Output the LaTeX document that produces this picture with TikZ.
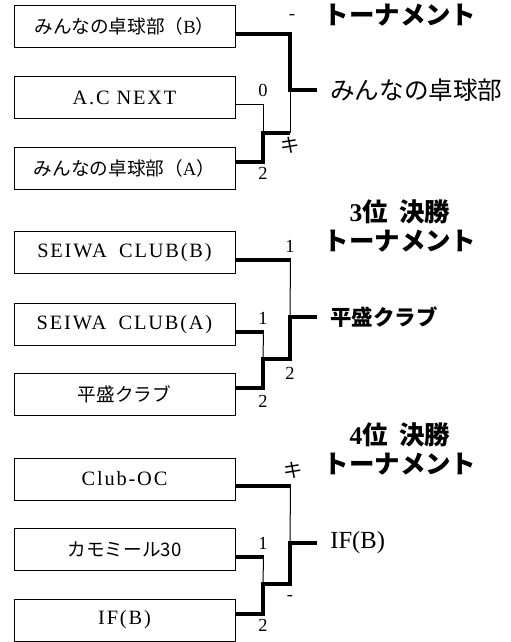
\documentclass[tikz,border=0pt]{standalone}
\usepackage{fontspec}
\setmainfont{Liberation Serif}
\newfontfamily\jp{Noto Sans CJK JP}
\newfontfamily\widefont[LetterSpace=9]{Liberation Serif}

\begin{document}
\begin{tikzpicture}[
	team/.style = {draw, line width = 0.2mm, minimum width = 4.42cm, minimum height = 0.84cm, inner sep = 0pt, font = \fontsize{11.6}{12}\selectfont\widefont},
	win/.style = {line width = 0.8mm},
	lose/.style = {line width = 0.2mm},
	score/.style = {inner sep = 0pt, font = \fontsize{10.5}{12}\selectfont},
	champ/.style = {anchor = west, inner sep = 0pt, font = \fontsize{14}{16}\selectfont},
	title/.style = {align = center, inner sep = 0pt, font = \fontsize{14.5}{17}\selectfont\jp\bfseries}
	]
						\useasboundingbox (0,0) rectangle (10.22,-12.84);
						
						% first block
						\node[team, font = \fontsize{10.6}{12}\selectfont\widefont] (a1) at (2.49,-0.53) {{\jp みんなの卓球部（}B{\jp ）}};
						\node[team] (a2) at (2.49,-1.95) {A.C NEXT};
						\node[team, font = \fontsize{10.6}{12}\selectfont\widefont] (a3) at (2.49,-3.36) {{\jp みんなの卓球部（}A{\jp ）}};
						
						\coordinate (a23) at (5.26,-2.65);
						\coordinate (af) at (5.80,-1.80);
						\coordinate (ae) at (6.34,-1.80);
						
						\draw[lose] ([yshift=-0.14cm]a2.east) -| (a23);
						\draw[win] ([yshift=0.13cm]a3.east) -| (a23) -- (a23 -| af) coordinate (a3r);
						\draw[lose] (a3r) -- (af);
						\draw[win] ([yshift=-0.14cm]a1.east) -| (af) -- (ae);
						
						\node[score] (sa1) at (5.84,-0.34) {-};
						\node[score] (sa2) at (5.26,-1.81) {0};
						\node[score, font = \fontsize{11}{12}\selectfont\jp] (sa3) at (5.80,-2.90) {キ};
						\node[score] (sa4) at (5.26,-3.47) {2};
						
						\node[champ, font = \fontsize{14}{16}\selectfont\jp] (wa) at (6.60,-1.80) {みんなの卓球部};
						\node[title] (ta) at (8.00,-0.30) {トーナメント};
						
						% 3rd place
						\node[team] (b1) at (2.49,-5.05) {SEIWA\hspace{0.6em}CLUB(B)};
						\node[team] (b2) at (2.49,-6.49) {SEIWA\hspace{0.6em}CLUB(A)};
						\node[team, font = \fontsize{10.6}{12}\selectfont\jp] (b3) at (2.49,-7.89) {平盛クラブ};
						
						\coordinate (b23) at (5.26,-7.18);
						\coordinate (bf) at (5.80,-6.34);
						\coordinate (be) at (6.34,-6.34);
						
						\draw[win] ([yshift=-0.14cm]b1.east) -- ++(1.10,0) coordinate (b1r);
						\draw[lose] (b1r) -- (bf);
						\draw[win] ([yshift=-0.14cm]b2.east) -- ++(0.56,0) coordinate (b2r);
						\draw[lose] (b2r) -- (b23);
						\draw[win] ([yshift=0.13cm]b3.east) -| (b23) -| (bf) -- (be);
						
						\node[score] (sb1) at (5.80,-4.93) {1};
						\node[score] (sb2) at (5.26,-6.37) {1};
						\node[score] (sb3) at (5.80,-7.47) {2};
						\node[score] (sb4) at (5.26,-8.03) {2};
						
						\node[champ, font = \fontsize{12.2}{14}\selectfont\jp\bfseries] (wb) at (6.60,-6.34) {平盛クラブ};
						\node[title] (tb) at (8.00,-4.52) {{\rmfamily 3}位\hspace{0.45em}決勝\\トーナメント};
						
						% 4th place
						\node[team] (c1) at (2.49,-9.58) {Club-OC};
						\node[team, font = \fontsize{10.6}{12}\selectfont\jp] (c2) at (2.49,-10.99) {カモミール30};
						\node[team] (c3) at (2.49,-12.40) {IF(B)};
						
						\coordinate (c23) at (5.26,-11.68);
						\coordinate (cf) at (5.80,-10.86);
						\coordinate (ce) at (6.34,-10.86);
						
						\draw[win] ([yshift=-0.14cm]c1.east) -- ++(1.10,0) coordinate (c1r);
						\draw[lose] (c1r) -- (cf);
						\draw[win] ([yshift=-0.14cm]c2.east) -- ++(0.56,0) coordinate (c2r);
						\draw[lose] (c2r) -- (c23);
						\draw[win] ([yshift=0.13cm]c3.east) -| (c23) -| (cf) -- (ce);
						
						\node[score, font = \fontsize{11}{12}\selectfont\jp] (sc1) at (5.86,-9.40) {キ};
						\node[score] (sc2) at (5.26,-10.87) {1};
						\node[score] (sc3) at (5.80,-11.96) {-};
						\node[score] (sc4) at (5.26,-12.50) {2};
						
						\node[champ] (wc) at (6.60,-10.86) {IF(B)};
						\node[title] (tc) at (8.00,-8.98) {{\rmfamily 4}位\hspace{0.45em}決勝\\トーナメント};
					
					\end{tikzpicture}
\end{document}
